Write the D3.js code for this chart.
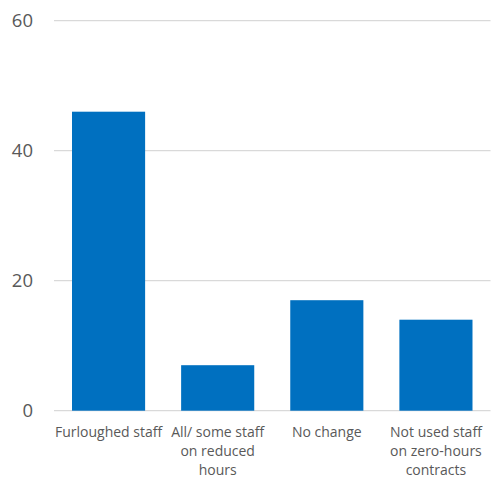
<!DOCTYPE html>
<html><head><meta charset="utf-8">
<script src="https://cdn.jsdelivr.net/npm/d3@7"></script>
<style>body{margin:0;background:#fff}svg{display:block}</style>
</head><body>
<svg id="c" width="491" height="478"></svg>
<script>
const categories = [["Furloughed staff"],["All/ some staff","on reduced","hours"],["No change"],["Not used staff","on zero-hours","contracts"]];
const values = [46, 7, 17, 14];
const yTicks = [0, 20, 40, 60];

(function(){
const svg = d3.select("#c");
const pl = 54, pr = 490.5, pt = 20.7, pb = 410.7;
const x = d3.scaleBand().domain(d3.range(categories.length)).range([pl, pr]).paddingInner(0.33).paddingOuter(0.165);
const y = d3.scaleLinear().domain([0, 60]).range([pb, pt]);

svg.append("g").selectAll("line").data(yTicks).join("line")
  .attr("x1", pl).attr("x2", pr)
  .attr("y1", d => y(d)).attr("y2", d => y(d))
  .attr("stroke", "#D9D9D9").attr("stroke-width", 1.3);

svg.append("g").selectAll("text").data(yTicks).join("text")
  .attr("x", 33).attr("y", d => y(d)).attr("dy", "0.36em")
  .attr("text-anchor", "end").attr("fill", "#595959")
  .style("font-family", "'Open Sans', sans-serif").style("font-size", "18.5px")
  .text(d => d);

svg.append("g").selectAll("rect").data(values).join("rect")
  .attr("x", (d, i) => x(i)).attr("width", x.bandwidth())
  .attr("y", d => y(d)).attr("height", d => y(0) - y(d))
  .attr("fill", "#0070C0");

const lab = svg.append("g").selectAll("text").data(categories).join("text")
  .attr("text-anchor", "middle").attr("fill", "#595959")
  .style("font-family", "'Open Sans', sans-serif").style("font-size", "14px");
lab.each(function(lines, i) {
  const t = d3.select(this);
  lines.forEach((s, j) => {
    t.append("tspan").attr("x", x(i) + x.bandwidth() / 2).attr("y", 436.5 + j * 19.3).text(s);
  });
});
})();
</script>
</body></html>
